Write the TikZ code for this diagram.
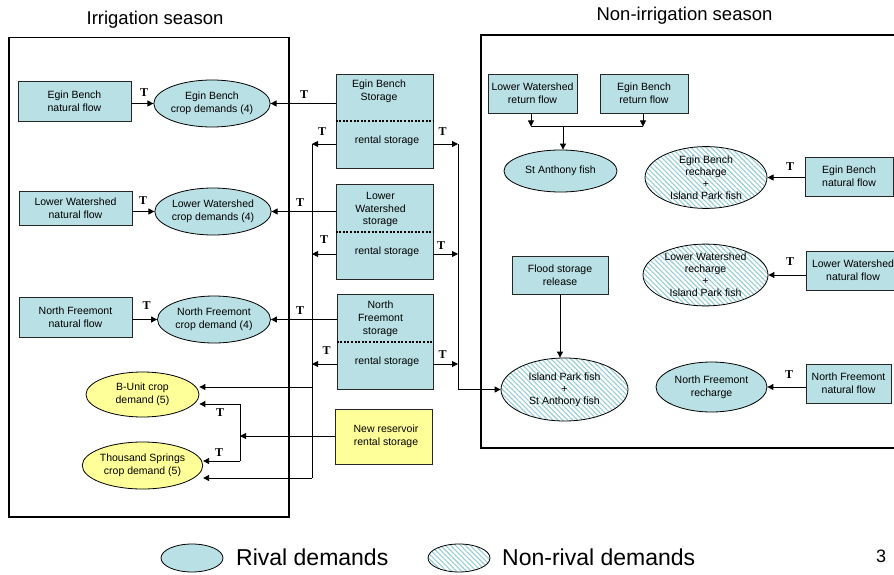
\documentclass[tikz,border=0pt]{standalone}
\usepackage{fontspec}
\setmainfont{Liberation Sans}
\newfontfamily\tserif{Liberation Serif}
\usetikzlibrary{arrows.meta,shapes.geometric,patterns.meta}
\definecolor{tealfill}{RGB}{185,224,228}
\definecolor{yel}{RGB}{255,255,153}
\definecolor{hatch}{RGB}{150,205,212}
\begin{document}
\begin{tikzpicture}[x=1pt,y=-1pt,
  font=\fontsize{10.5}{12.8}\selectfont,
  rbox/.style={draw=black!85, line width=0.8pt, fill=tealfill, inner sep=0pt, align=center},
  ybox/.style={rbox, fill=yel},
  rell/.style={ellipse, draw=black, line width=0.8pt, fill=tealfill, inner sep=0pt, align=center},
  yell/.style={rell, fill=yel},
  hell/.style={ellipse, draw=black, line width=0.8pt, pattern={Lines[angle=-45,distance=3.5pt,line width=1.1pt]}, pattern color=hatch, inner sep=0pt, align=center, font=\fontsize{10.5}{12}\selectfont},
  arr/.style={-{Triangle[length=6pt,width=6pt]}, line width=0.9pt},
  ln/.style={line width=0.9pt},
  tlab/.style={font=\tserif\bfseries\fontsize{12}{12}\selectfont, inner sep=0pt},
  frm/.style={draw=black, line width=1.6pt, inner sep=0pt},
  dotl/.style={line width=2pt, dash pattern=on 2pt off 1.6pt},
  txt/.style={inner sep=0pt, align=center}]
\useasboundingbox (0,0) rectangle (894,575);

% frames and titles
\node[frm, minimum width=280pt, minimum height=479.5pt] (lframe) at (149,277.25) {};
\node[frm, minimum width=419pt, minimum height=413pt] (rframe) at (690.5,241.5) {};
\node[txt, anchor=base, font=\fontsize{18.5}{20}\selectfont] (title1) at (155,25) {Irrigation season};
\node[txt, anchor=base, font=\fontsize{18.5}{20}\selectfont] (title2) at (684.5,20.5) {Non-irrigation season};

% left column
\node[rbox, minimum width=113pt, minimum height=40pt] (ebnf) at (74.5,101) {Egin Bench\\natural flow};
\node[rell, minimum width=112pt, minimum height=47pt] (ebcd) at (212,103.5) {Egin Bench\\crop demands (4)};
\node[rbox, minimum width=113pt, minimum height=34pt] (lwnf) at (75.5,208) {Lower Watershed\\natural flow};
\node[rell, minimum width=112pt, minimum height=47pt] (lwcd) at (213,211.5) {Lower Watershed\\crop demands (4)};
\node[rbox, minimum width=113pt, minimum height=40pt] (nfnf) at (75.5,317) {North Freemont\\natural flow};
\node[rell, minimum width=113pt, minimum height=47pt] (nfcd) at (214,319.5) {North Freemont\\crop demand (4)};
\node[yell, minimum width=113pt, minimum height=45pt] (bunit) at (142.5,394.5) {B-Unit crop\\demand (5)};
\node[yell, minimum width=113pt, minimum height=47pt] (tsp) at (142.5,465.5) {Thousand Springs\\crop demand (5)};

% storage boxes
\node[rbox, minimum width=97pt, minimum height=94pt] (ebs) at (384.5,121) {};
\node[txt] (ebst) at (379,91.5) {Egin Bench\\Storage};
\node[txt] (ebsr) at (387,141) {rental storage};
\draw[dotl] (ebs.west |- 0,121) -- (ebs.east |- 0,121);

\node[rbox, minimum width=97pt, minimum height=95pt] (lws) at (384.5,231.5) {};
\node[txt] (lwst) at (380.5,209.5) {Lower\\Watershed\\storage};
\node[txt] (lwsr) at (387,252) {rental storage};
\draw[dotl] (lws.west |- 0,232) -- (lws.east |- 0,232);

\node[rbox, minimum width=96pt, minimum height=95pt] (nfs) at (385,341.5) {};
\node[txt] (nfst) at (380.5,319) {North\\Freemont\\storage};
\node[txt] (nfsr) at (387,362) {rental storage};
\draw[dotl] (nfs.west |- 0,342) -- (nfs.east |- 0,342);

\node[ybox, minimum width=97pt, minimum height=55pt] (nres) at (383.5,436.5) {};
\node[txt] (nrest) at (386,436.5) {New reservoir\\rental storage};

% right side
\node[rbox, minimum width=89pt, minimum height=39pt] (lwrf) at (532.5,93.5) {Lower Watershed\\return flow};
\node[rbox, minimum width=88pt, minimum height=39pt] (ebrf) at (644,93.5) {Egin Bench\\return flow};
\node[rell, minimum width=113pt, minimum height=42pt] (saf) at (560.5,171) {St Anthony fish};
\node[hell, minimum width=122pt, minimum height=59pt] (ebrip) at (706,177.5) {Egin Bench\\recharge\\+\\Island Park fish};
\node[rbox, minimum width=88pt, minimum height=39pt] (ebnf2) at (849,176.5) {Egin Bench\\natural flow};
\node[rbox, minimum width=96pt, minimum height=38pt] (fsr) at (560,275) {Flood storage\\release};
\node[hell, minimum width=125pt, minimum height=56pt] (lwrip) at (705.5,275) {Lower Watershed\\recharge\\+\\Island Park fish};
\node[rbox, minimum width=94pt, minimum height=39pt] (lwnf2) at (853,270.5) {Lower Watershed\\natural flow};
\node[hell, minimum width=127pt, minimum height=63pt] (ipsa) at (564.5,389.5) {Island Park fish\\+\\St Anthony fish};
\node[rell, minimum width=111pt, minimum height=50pt] (nfr) at (711.5,387) {North Freemont\\recharge};
\node[rbox, minimum width=85pt, minimum height=39pt] (nfnf2) at (848.5,383.5) {North Freemont\\natural flow};

% left rows connectors
\draw[arr] (ebnf.east |- ebcd.west) -- (ebcd.west);
\draw[arr] (lwnf.east |- lwcd.west) -- (lwcd.west);
\draw[arr] (nfnf.east |- nfcd.west) -- (nfcd.west);
\node[tlab] (t1) at (144,92.5) {T};
\node[tlab] (t2) at (143,200.5) {T};
\node[tlab] (t3) at (146.5,305.5) {T};

% storage to crop demands
\draw[arr] (ebs.west |- ebcd.east) -- (ebcd.east);
\draw[arr] (lws.west |- lwcd.east) -- (lwcd.east);
\draw[arr] (nfs.west |- nfcd.east) -- (nfcd.east);
\node[tlab] (t4) at (304,95) {T};
\node[tlab] (t5) at (300,202.5) {T};
\node[tlab] (t6) at (300,310.5) {T};

% rental storage to the left
\coordinate (l1) at (312,144);
\coordinate (l2) at (312,254);
\coordinate (l3) at (312,364);
\coordinate (lbu) at (312,387);
\coordinate (lts) at (312,478);
\draw[arr] (ebs.west |- l1) -- (l1);
\draw[arr] (lws.west |- l2) -- (l2);
\draw[arr] (nfs.west |- l3) -- (l3);
\draw[ln] (l1) -- (lts);
\draw[arr] (lbu) -- (lbu -| bunit.east);
\draw[arr] (lts) -- (lts -| tsp.east);
\node[tlab] (t7) at (322,131.5) {T};
\node[tlab] (t8) at (324,240) {T};
\node[tlab] (t9) at (326.5,351) {T};

% rental storage to the right
\coordinate (r1) at (458,144);
\coordinate (r2) at (458,254);
\coordinate (r3) at (458,364);
\coordinate (rb) at (458,389.5);
\draw[arr] (ebs.east |- r1) -- (r1);
\draw[arr] (lws.east |- r2) -- (r2);
\draw[arr] (nfs.east |- r3) -- (r3);
\draw[ln] (r1) -- (rb);
\draw[arr] (rb) -- (ipsa.west);
\node[tlab] (t10) at (442.5,131.5) {T};
\node[tlab] (t11) at (441,246) {T};
\node[tlab] (t12) at (442.5,355) {T};

% new reservoir bracket
\coordinate (bm) at (240,436);
\coordinate (bt) at (240,404);
\coordinate (bb) at (240,461);
\draw[arr] (nres.west |- bm) -- (bm);
\draw[ln] (bt) -- (bb);
\draw[arr] (bt) -- (bt -| bunit.east);
\draw[arr] (bb) -- (bb -| tsp.east);
\node[tlab] (t13) at (220,413) {T};
\node[tlab] (t14) at (219,453) {T};

% non-irrigation connectors
\coordinate (ja) at (531,126.5);
\coordinate (jb) at (643,126.5);
\coordinate (jm) at (563,126.5);
\draw[arr] (lwrf.south -| ja) -- (ja);
\draw[arr] (ebrf.south -| jb) -- (jb);
\draw[ln] (ja) -- (jb);
\draw[arr] (jm) -- (jm |- saf.north);
\draw[arr] (ebnf2.west |- ebrip.east) -- (ebrip.east);
\draw[arr] (lwnf2.west |- lwrip.east) -- (lwrip.east);
\draw[arr] (nfnf2.west |- nfr.east) -- (nfr.east);
\draw[arr] (fsr.south) -- (fsr.south |- ipsa.north);
\node[tlab] (t15) at (790,167) {T};
\node[tlab] (t16) at (790,262) {T};
\node[tlab] (t17) at (789,375) {T};

% legend
\node[rell, minimum width=62pt, minimum height=28pt] (legr) at (192,558) {};
\node[txt, anchor=base west, font=\fontsize{23}{25}\selectfont] (legrt) at (236,565) {Rival demands};
\node[hell, minimum width=62pt, minimum height=28pt] (legn) at (459,558) {};
\node[txt, anchor=base west, font=\fontsize{23}{25}\selectfont] (legnt) at (502,565) {Non-rival demands};
\node[txt, anchor=base, font=\fontsize{18}{20}\selectfont] (pnum) at (881,562) {3};
\end{tikzpicture}
\end{document}
